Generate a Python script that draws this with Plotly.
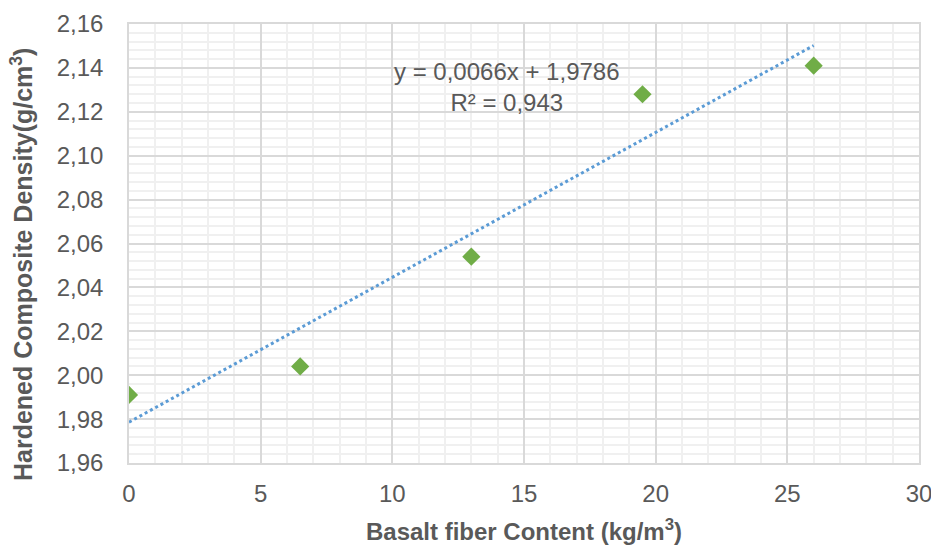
import numpy as np
import plotly.graph_objects as go

fiber_content = [0, 6.5, 13, 19.5, 26]
density = [1.991, 2.004, 2.054, 2.128, 2.141]

x_tick_vals = [0, 5, 10, 15, 20, 25, 30]
y_tick_vals = [1.96, 1.98, 2.00, 2.02, 2.04, 2.06, 2.08, 2.10, 2.12, 2.14, 2.16]

slope, intercept = 0.0066, 1.9786
fit_x = np.linspace(min(fiber_content), max(fiber_content), 50)
fit_y = slope * fit_x + intercept

grey = "#595959"
font_family = "Liberation Sans, Arial, sans-serif"

fig = go.Figure()
fig.add_trace(go.Scatter(
    x=fit_x, y=fit_y, mode="lines",
    line=dict(color="#5B9BD5", width=3, dash="dot"),
    showlegend=False, hoverinfo="skip"))
fig.add_trace(go.Scatter(
    x=fiber_content, y=density, mode="markers",
    marker=dict(symbol="diamond", color="#70AD47", size=14),
    showlegend=False))

fig.add_annotation(
    x=14.36, y=2.1313, xref="x", yref="y",
    text="y = 0,0066x + 1,9786<br>R² = 0,943",
    showarrow=False, align="center",
    font=dict(size=24, color=grey, family=font_family))

# y-axis title placed as annotation to match its off-centre position
fig.add_annotation(
    x=0, y=0.451, xref="paper", yref="paper",
    xanchor="center", yanchor="middle", xshift=-107,
    textangle=-90, showarrow=False,
    text="<b>Hardened Composite Density(g/cm<sup>3</sup>)</b>",
    font=dict(size=25, color=grey, family=font_family))

fig.update_layout(
    width=931, height=545,
    margin=dict(l=129, r=12, t=24, b=82),
    paper_bgcolor="white", plot_bgcolor="white",
    separators=",.",
    font=dict(family=font_family, color=grey, size=24),
)
fig.update_xaxes(
    range=[0, 30], tickvals=x_tick_vals, automargin=False,
    showgrid=True, gridcolor="#D9D9D9", gridwidth=1.5,
    minor=dict(dtick=1, showgrid=True, gridcolor="#F0F0F0", gridwidth=1.5),
    showline=True, linecolor="#D9D9D9", linewidth=1.5, mirror=True,
    zeroline=False, ticks="", ticklabelstandoff=8, ticklabeloverflow="allow",
    tickfont=dict(size=24, color=grey),
    title=dict(text="<b>Basalt fiber Content (kg/m<sup>3</sup>)</b>",
               font=dict(size=24, color=grey), standoff=33),
)
fig.update_yaxes(
    range=[1.96, 2.16], tickvals=y_tick_vals, tickformat=".2f", automargin=False,
    showgrid=True, gridcolor="#D9D9D9", gridwidth=1.5,
    minor=dict(dtick=0.004, showgrid=True, gridcolor="#F0F0F0", gridwidth=1.5),
    showline=True, linecolor="#D9D9D9", linewidth=1.5, mirror=True,
    zeroline=False, ticks="", ticklabelstandoff=19, ticklabeloverflow="allow",
    tickfont=dict(size=24, color=grey),
)

fig.write_html("out.html")
